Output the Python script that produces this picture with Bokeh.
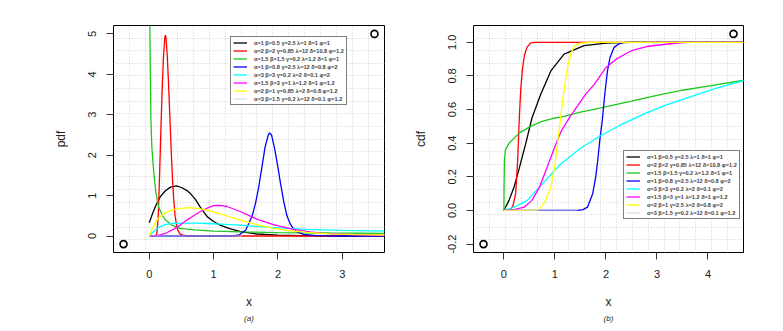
from bokeh.plotting import figure
from bokeh.layouts import row
from bokeh.models import FixedTicker, Legend, LegendItem, Title, Range1d, PrintfTickFormatter
from bokeh.embed import file_html
from bokeh.resources import INLINE

# ---------------- data ----------------
labels_a = [
    "α=1 β=0.5 γ=2.5 λ=1 δ=1 φ=1",
    "α=2 β=2 γ=0.85 λ=12 δ=10.8 φ=1.2",
    "α=1.5 β=1.5 γ=0.2 λ=1.2 δ=1 φ=1",
    "α=1 β=0.8 γ=2.5 λ=12 δ=0.8 φ=2",
    "α=3 β=3 γ=0.2 λ=2 δ=0.1 φ=2",
    "α=1.5 β=3 γ=1 λ=1.2 δ=1 φ=1.2",
    "α=2 β=1 γ=0.85 λ=2 δ=0.8 φ=1.2",
    "α=3 β=1.5 γ=0.2 λ=12 δ=0.1 φ=1.2",
]
labels_b = [
    "α=1 β=0.5 γ=2.5 λ=1 δ=1 φ=1",
    "α=2 β=2 γ=0.85 λ=12 δ=10.8 φ=1.2",
    "α=1.5 β=1.5 γ=0.2 λ=1.2 δ=1 φ=1",
    "α=1 β=0.8 γ=2.5 λ=12 δ=0.8 φ=2",
    "α=3 β=3 γ=0.2 λ=2 δ=0.1 φ=2",
    "α=1.5 β=3 γ=1 λ=1.2 δ=1 φ=1.2",
    "α=2 β=1 γ=2.5 λ=2 δ=0.8 φ=2",
    "α=3 β=1.5 γ=0.2 λ=12 δ=0.1 φ=1.2",
]
colors = ["black", "#ff0000", "#1ec81e", "#0000ff", "#00ffff", "#ff00ff", "#ffff00", "#c8c8c8"]

# pdf panel (a)
pdf_black_x = [0, 0.05, 0.1, 0.17, 0.25, 0.33, 0.42, 0.5, 0.58, 0.64, 0.72, 0.79, 0.9, 1.0, 1.1, 1.25, 1.42, 1.67, 2.0, 2.5, 3.66]
pdf_black_y = [0.33, 0.55, 0.75, 0.97, 1.12, 1.21, 1.24, 1.2, 1.13, 1.05, 0.9, 0.72, 0.48, 0.36, 0.27, 0.18, 0.11, 0.05, 0.02, 0.005, 0]
pdf_red_x = [0, 0.1, 0.12, 0.14, 0.16, 0.18, 0.2, 0.22, 0.24, 0.25, 0.26, 0.28, 0.3, 0.32, 0.34, 0.36, 0.38, 0.4, 0.43, 0.47, 0.52, 0.6, 3.66]
pdf_red_y = [0, 0, 0.08, 0.5, 1.5, 2.6, 3.6, 4.4, 4.9, 4.97, 4.9, 4.45, 3.75, 2.95, 2.15, 1.45, 0.9, 0.52, 0.2, 0.06, 0.02, 0, 0]
pdf_green_x = [0.004, 0.016, 0.026, 0.04, 0.067, 0.1, 0.145, 0.2, 0.25, 0.35, 0.48, 0.7, 1.0, 1.42, 2.0, 2.8, 3.66]
pdf_green_y = [6.0, 4.1, 2.86, 2.2, 1.63, 1.1, 0.72, 0.52, 0.4, 0.27, 0.19, 0.15, 0.12, 0.1, 0.085, 0.075, 0.066]
pdf_blue_x = [0, 1.3, 1.4, 1.5, 1.6, 1.65, 1.7, 1.75, 1.8, 1.85, 1.87, 1.9, 1.95, 2.0, 2.04, 2.09, 2.14, 2.19, 2.24, 2.3, 2.4, 2.6, 3.0, 3.66]
pdf_blue_y = [0, 0, 0.03, 0.15, 0.5, 0.8, 1.2, 1.7, 2.2, 2.5, 2.55, 2.5, 2.15, 1.7, 1.3, 0.85, 0.5, 0.3, 0.18, 0.1, 0.04, 0.01, 0, 0]
pdf_cyan_x = [0, 0.05, 0.1, 0.17, 0.25, 0.35, 0.5, 0.74, 0.9, 1.1, 1.42, 1.8, 2.45, 3.0, 3.66]
pdf_cyan_y = [0, 0.08, 0.16, 0.23, 0.28, 0.31, 0.32, 0.32, 0.31, 0.295, 0.27, 0.22, 0.165, 0.14, 0.12]
pdf_magenta_x = [0, 0.1, 0.17, 0.27, 0.38, 0.48, 0.59, 0.69, 0.79, 0.9, 1.0, 1.1, 1.21, 1.42, 1.67, 1.93, 2.24, 2.5, 2.71, 3.2, 3.66]
pdf_magenta_y = [0, 0.01, 0.03, 0.08, 0.17, 0.27, 0.4, 0.5, 0.6, 0.69, 0.75, 0.76, 0.73, 0.6, 0.42, 0.28, 0.165, 0.1, 0.066, 0.035, 0.02]
pdf_yellow_x = [0, 0.05, 0.12, 0.2, 0.275, 0.38, 0.48, 0.59, 0.7, 0.8, 1.0, 1.2, 1.42, 1.65, 1.93, 2.2, 2.45, 2.8, 3.2, 3.66]
pdf_yellow_y = [0, 0.2, 0.4, 0.52, 0.6, 0.65, 0.68, 0.70, 0.69, 0.67, 0.6, 0.5, 0.395, 0.29, 0.19, 0.13, 0.09, 0.055, 0.035, 0.025]
pdf_gray_x = [0, 1.45]
pdf_gray_y = [0, 0]

# cdf panel (b)
cdf_black_x = [0, 0.1, 0.2, 0.3, 0.43, 0.55, 0.72, 0.92, 1.18, 1.57, 2.0, 2.5, 4.7]
cdf_black_y = [0, 0.06, 0.14, 0.25, 0.40, 0.55, 0.69, 0.83, 0.93, 0.98, 0.995, 1.0, 1.0]
cdf_red_x = [0, 0.12, 0.18, 0.23, 0.27, 0.3, 0.33, 0.36, 0.4, 0.45, 0.52, 0.6, 4.7]
cdf_red_y = [0, 0, 0.03, 0.1, 0.3, 0.54, 0.72, 0.83, 0.92, 0.97, 0.995, 1.0, 1.0]
cdf_green_x = [0, 0.003, 0.01, 0.03, 0.1, 0.3, 0.52, 0.75, 1.0, 1.12, 1.5, 1.9, 2.5, 3.0, 3.5, 4.0, 4.72]
cdf_green_y = [0, 0.15, 0.3, 0.36, 0.4, 0.46, 0.50, 0.53, 0.55, 0.555, 0.585, 0.61, 0.65, 0.685, 0.715, 0.74, 0.775]
cdf_blue_x = [0, 1.45, 1.55, 1.64, 1.74, 1.8, 1.84, 1.88, 1.93, 1.98, 2.03, 2.08, 2.16, 2.25, 2.36, 4.7]
cdf_blue_y = [0, 0, 0.005, 0.02, 0.1, 0.2, 0.30, 0.42, 0.54, 0.7, 0.83, 0.91, 0.97, 0.99, 1.0, 1.0]
cdf_cyan_x = [0, 0.2, 0.46, 0.7, 1.0, 1.12, 1.5, 1.9, 2.3, 2.76, 3.2, 3.74, 4.2, 4.72]
cdf_cyan_y = [0, 0.02, 0.06, 0.14, 0.24, 0.278, 0.37, 0.446, 0.51, 0.576, 0.63, 0.685, 0.73, 0.774]
cdf_magenta_x = [0, 0.2, 0.4, 0.55, 0.7, 0.85, 1.0, 1.12, 1.3, 1.44, 1.6, 1.77, 2.0, 2.2, 2.5, 2.8, 3.2, 3.6, 4.7]
cdf_magenta_y = [0, 0.005, 0.02, 0.06, 0.14, 0.26, 0.38, 0.47, 0.56, 0.62, 0.69, 0.75, 0.85, 0.9, 0.95, 0.975, 0.99, 1.0, 1.0]
cdf_yellow_x = [0, 0.6, 0.69, 0.8, 0.92, 1.0, 1.05, 1.1, 1.15, 1.21, 1.26, 1.31, 1.36, 1.41, 1.5, 1.7, 4.7]
cdf_yellow_y = [0, 0, 0.005, 0.05, 0.14, 0.27, 0.4, 0.52, 0.65, 0.78, 0.87, 0.93, 0.965, 0.985, 0.995, 1.0, 1.0]
cdf_gray_x = [0, 1.45]
cdf_gray_y = [0, 0]

corner_a_x = [-0.4, 3.5]
corner_a_y = [-0.2, 5.0]
corner_b_x = [-0.4, 4.5]
corner_b_y = [-0.2, 1.05]

ticks_a_x = [0, 1, 2, 3]
ticks_a_y = [0, 1, 2, 3, 4, 5]
ticks_b_x = [0, 1, 2, 3, 4]
ticks_b_y = [-0.2, 0.0, 0.2, 0.4, 0.6, 0.8, 1.0]

pdf_series = [(pdf_black_x, pdf_black_y), (pdf_red_x, pdf_red_y), (pdf_green_x, pdf_green_y),
              (pdf_blue_x, pdf_blue_y), (pdf_cyan_x, pdf_cyan_y), (pdf_magenta_x, pdf_magenta_y),
              (pdf_yellow_x, pdf_yellow_y), (pdf_gray_x, pdf_gray_y)]
cdf_series = [(cdf_black_x, cdf_black_y), (cdf_red_x, cdf_red_y), (cdf_green_x, cdf_green_y),
              (cdf_blue_x, cdf_blue_y), (cdf_cyan_x, cdf_cyan_y), (cdf_magenta_x, cdf_magenta_y),
              (cdf_yellow_x, cdf_yellow_y), (cdf_gray_x, cdf_gray_y)]

FONT = "Liberation Sans"


def padded(lo, hi):
    d = (hi - lo) * 0.04
    return Range1d(lo - d, hi + d)


def grid_positions(lo, hi, n):
    step = (hi - lo) / n
    return [lo + step * k for k in range(1, n)]


def make_panel(series, labels, cx, cy, xt, yt, ylabel, tag, width, left, right, legend_loc, yfmt=None):
    p = figure(width=width, height=331, output_backend="svg", toolbar_location=None,
               min_border_left=left, min_border_right=right, min_border_top=25, min_border_bottom=79,
               x_range=padded(min(cx), max(cx)), y_range=padded(min(cy), max(cy)))
    p.outline_line_color = "black"
    p.outline_line_width = 1
    p.background_fill_color = "white"
    p.border_fill_color = "white"

    xr, yr = p.x_range, p.y_range
    p.xgrid.ticker = FixedTicker(ticks=grid_positions(xr.start, xr.end, 17))
    p.ygrid.ticker = FixedTicker(ticks=grid_positions(yr.start, yr.end, 18))
    for g in (p.xgrid, p.ygrid):
        g.grid_line_color = "#cfcfcf"
        g.grid_line_dash = "1 2"
        g.grid_line_width = 1

    for ax, ticks in ((p.xaxis, xt), (p.yaxis, yt)):
        ax.ticker = FixedTicker(ticks=ticks)
        ax.axis_line_color = None
        ax.major_tick_out = 7
        ax.major_tick_in = 0
        ax.minor_tick_line_color = None
        ax.major_tick_line_color = "#333333"
        ax.major_label_text_font = FONT
        ax.major_label_text_font_size = "11px"
        ax.major_label_text_color = "#222222"
        ax.major_label_standoff = 10
        ax.axis_label_text_font = FONT
        ax.axis_label_text_font_size = "12px"
        ax.axis_label_text_font_style = "normal"
        ax.axis_label_text_color = "#222222"
    if yfmt:
        p.yaxis.formatter = PrintfTickFormatter(format=yfmt)
    p.yaxis.major_label_orientation = "vertical"
    p.xaxis.axis_label = "x"
    p.yaxis.axis_label = ylabel
    p.xaxis.axis_label_standoff = 14
    p.yaxis.axis_label_standoff = 18

    items = []
    for (xs, ys), c, lab in zip(series, colors, labels):
        alpha = 0.6 if c == "#c8c8c8" else 1.0
        r = p.line(xs, ys, line_color=c, line_width=1.3, line_alpha=alpha)
        items.append(LegendItem(label=lab, renderers=[r]))

    p.scatter(cx, cy, marker="circle", size=7, fill_color=None, line_color="black", line_width=1.6)

    leg = Legend(items=items, location=legend_loc, orientation="vertical",
                 label_text_font=FONT, label_text_font_size="5.6px", label_text_font_style="bold",
                 label_height=7, glyph_height=7, glyph_width=14, label_standoff=7,
                 spacing=1, padding=2, margin=0, border_line_color="black", border_line_width=1,
                 background_fill_color="white", background_fill_alpha=1.0)
    p.add_layout(leg)

    t = Title(text=tag, align="center", text_font=FONT, text_font_size="8px",
              text_font_style="italic", text_color="#222222", standoff=0)
    p.add_layout(t, "below")
    return p


pa = make_panel(pdf_series, labels_a, corner_a_x, corner_a_y, ticks_a_x, ticks_a_y, "pdf", "(a)",
                408, 113, 24, (117, 147))
pb = make_panel(cdf_series, labels_b, corner_b_x, corner_b_y, ticks_b_x, ticks_b_y, "cdf", "(b)",
                375, 65, 40, (150, 33), yfmt="%.1f")

layout = row(pa, pb, spacing=0)
open("out.html", "w").write(file_html(layout, INLINE))
